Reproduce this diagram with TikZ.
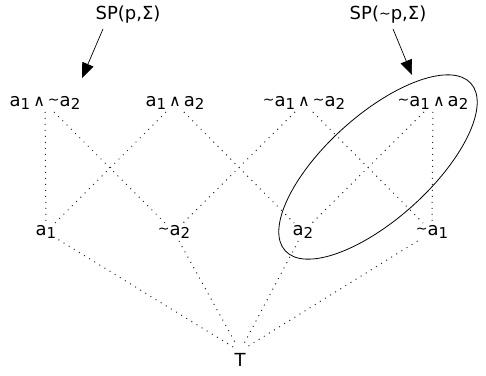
\documentclass[tikz,border=0pt]{standalone}
\usepackage{fontspec}
\setmainfont{DejaVu Sans}
\usetikzlibrary{arrows.meta}
\newcommand{\idx}[1]{\raisebox{-0.35ex}{\fontsize{15}{15}\selectfont #1}}
\newcommand{\wedg}{\,{\fontsize{16}{16}\selectfont ∧}\,}
\newcommand{\nt}{\raisebox{0.15ex}{\fontsize{14}{14}\selectfont\textasciitilde}}

\begin{document}
\begin{tikzpicture}[
    x=1pt, y=-1pt,
    lit/.style={inner sep=2pt, font=\fontsize{18}{20}\selectfont},
    lattice/.style={line width=1pt, dash pattern=on 1pt off 5pt, black!85},
    pointer/.style={-{Triangle[length=15pt, width=12pt]}, line width=0.7pt},
    region/.style={draw, line width=0.8pt}
]
    \useasboundingbox (0,0) rectangle (486,375);

    % the two sets
    \node[lit] (sp1) at (128,15) {SP(p,Σ)};
    \node[lit] (sp2) at (388,15) {SP(\nt p,Σ)};
    \coordinate (tip1) at (82,78);
    \coordinate (tip2) at (412,75);

    % lattice
    \node[lit] (a1na2) at (45,103) {a\idx1\wedg\nt a\idx2};
    \node[lit] (a1a2) at (175,103) {a\idx1\wedg a\idx2};
    \node[lit] (na1na2) at (304,103) {\nt a\idx1\wedg\nt a\idx2};
    \node[lit] (na1a2) at (433,103) {\nt a\idx1\wedg a\idx2};
    \node[lit] (a1) at (46,232) {a\idx1};
    \node[lit] (na2) at (174,232) {\nt a\idx2};
    \node[lit] (a2) at (303,232) {a\idx2};
    \node[lit] (na1) at (432,232) {\nt a\idx1};
    \node[lit] (top) at (240,360) {T};

    \foreach \u/\l in {a1na2/a1, a1a2/a1, a1na2/na2, na1na2/na2,
                       a1a2/a2, na1a2/a2, na1na2/na1, na1a2/na1}
        \draw[lattice] (\u) -- (\l);
    \foreach \l in {a1, na2, a2, na1}
        \draw[lattice, shorten >=7pt] (\l) -- (top.north);

    \draw[pointer] ([xshift=-25pt,yshift=-3pt]sp1.south) -- (tip1);
    \draw[pointer] ([xshift=5pt,yshift=-3pt]sp2.south) -- (tip2);

    % region of SP(~p,Sigma)
    \coordinate (blob) at (378,167);
    \draw[region, rotate around={42:(blob)}] (blob) ellipse [x radius=125pt, y radius=52pt];
\end{tikzpicture}
\end{document}
